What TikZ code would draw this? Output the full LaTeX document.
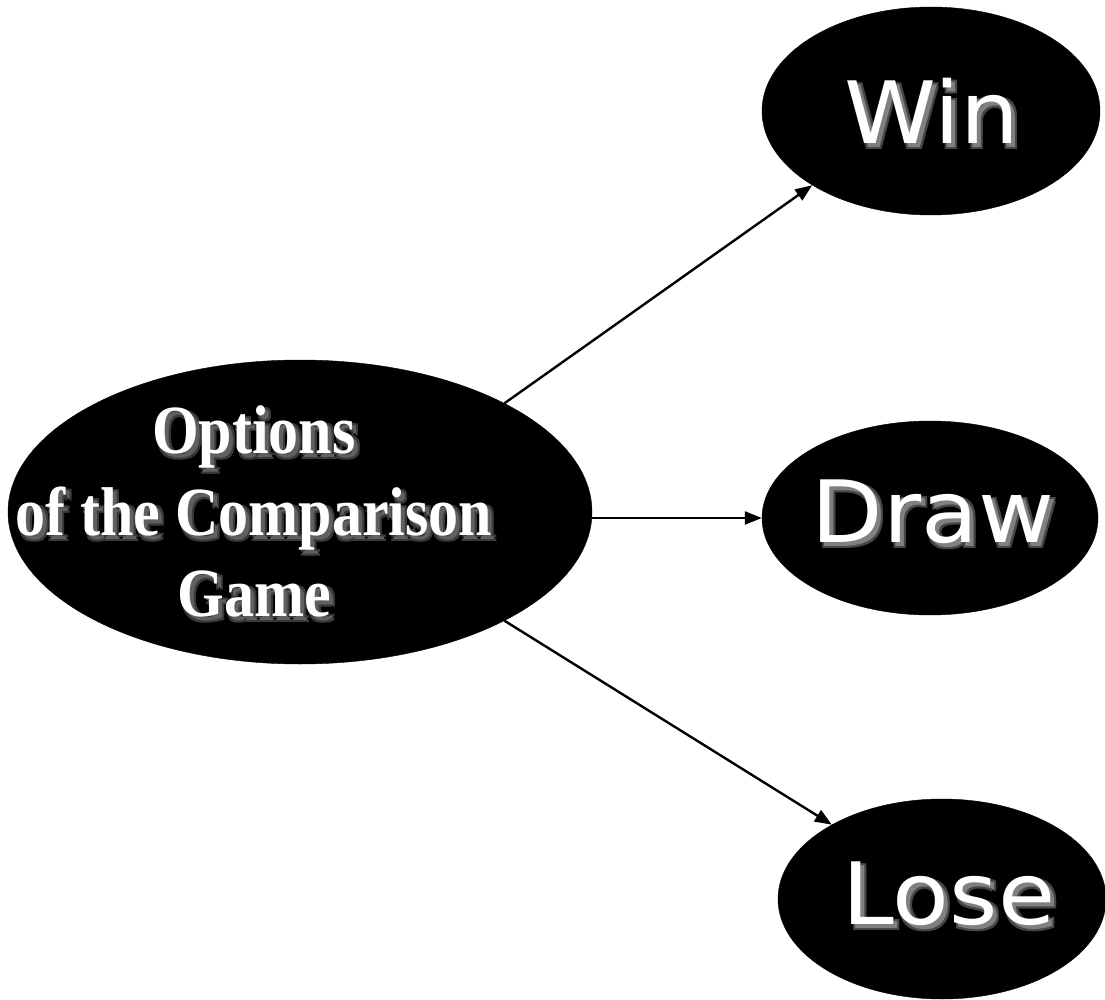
\documentclass[tikz,border=0pt]{standalone}
\usepackage{fontspec}
\setmainfont{Liberation Serif}
\newfontfamily\outfont{DejaVu Sans}
\usetikzlibrary{shapes.geometric,arrows.meta}
\tikzset{
  blob/.style={ellipse, fill=black, draw=black, inner sep=0pt},
  arr/.style={line width=2.4pt, -{Triangle[length=17pt,width=13pt]}},
  maintext/.style={font=\bfseries\fontsize{60}{71}\selectfont, inner sep=0pt, text=white},
  outtext/.style={font=\outfont\fontsize{86}{100}\selectfont, inner sep=0pt, text=white},
}
% white text with a soft grey drop shadow (#1 outer colour, #2 inner colour, #3 text)
\newcommand\shadowed[3]{%
  \smash{\rlap{\kern2pt\raisebox{-2pt}{\color{#1}#3}}%
  \rlap{\kern6pt\raisebox{-6pt}{\color{#1}#3}}%
  \rlap{\kern6pt\raisebox{-2pt}{\color{#1}#3}}%
  \rlap{\kern2pt\raisebox{-6pt}{\color{#1}#3}}%
  \rlap{\kern4pt\raisebox{-4pt}{\color{#2}#3}}}#3}
\newcommand\wide[1]{\scalebox{1.08}[1]{#1}}
\begin{document}
\begin{tikzpicture}[x=1pt,y=-1pt]
\useasboundingbox[fill=white] (0,0) rectangle (1105,1000);
% ellipses
\node[blob, minimum width=584pt, minimum height=304pt] (c) at (300,512) {};
\node[blob, minimum width=338pt, minimum height=208pt] (w) at (931,111) {};
\node[blob, minimum width=336pt, minimum height=194pt] (d) at (930,518) {};
\node[blob, minimum width=328pt, minimum height=200pt] (l) at (942,899) {};
% texts
\node[maintext] (ct) at (254,519) {\shadowed{gray!45!black}{gray!75!black}{\scalebox{1}[1.15]{\begin{tabular}{@{}c@{}}Options\\of the Comparison\\Game\end{tabular}}}};
\node[outtext] (wt) at (932,111) {\shadowed{gray!55!black}{gray}{\wide{Win}}};
\node[outtext] (dt) at (933,512) {\shadowed{gray!55!black}{gray}{\wide{Draw}}};
\node[outtext] (lt) at (949,894) {\shadowed{gray!55!black}{gray}{\wide{Lose}}};
% connectors
\draw[arr] (c.28) -- (w.212);
\draw[arr] (c.east |- d.west) -- (d.west);
\draw[arr] (c.-28) -- (l.146);
\end{tikzpicture}
\end{document}
